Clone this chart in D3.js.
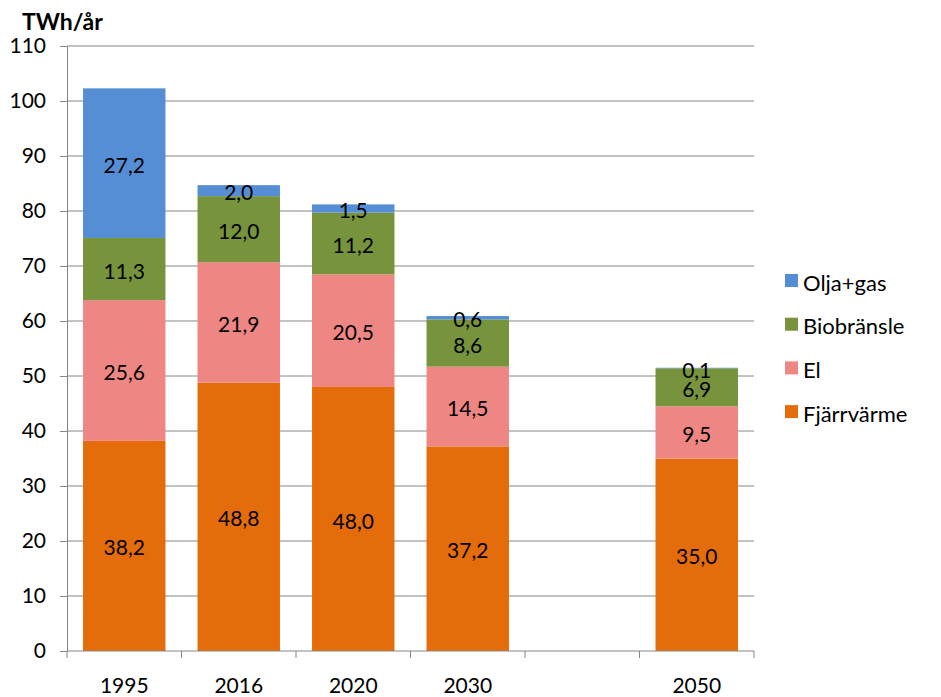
<!DOCTYPE html>
<html><head><meta charset="utf-8">
<script src="https://cdn.jsdelivr.net/npm/d3@7"></script>
<style>body{margin:0;background:#fff}svg{display:block}text{font-family:Lato,"Open Sans",sans-serif}</style>
</head><body>
<svg id="c" width="941" height="697"></svg>
<script>
const categories = ["1995","2016","2020","2030","","2050"];
const seriesNames = ["Fjärrvärme","El","Biobränsle","Olja+gas"];
const fjarrvarme = [38.2,48.8,48.0,37.2,null,35.0];
const el = [25.6,21.9,20.5,14.5,null,9.5];
const biobransle = [11.3,12.0,11.2,8.6,null,6.9];
const oljagas = [27.2,2.0,1.5,0.6,null,0.1];
const yTicks = [0,10,20,30,40,50,60,70,80,90,100,110];
const colors = ["#E46C0A","#EE8783","#77933C","#558ED5"];

const FS = 21;
const svg = d3.select("#c");
const m = {l:67, r:187, t:46, b:46};
const W = 941, H = 697;
const x = d3.scaleBand().domain(d3.range(categories.length)).range([m.l, W-m.r]).paddingInner(0.28).paddingOuter(0.14);
const y = d3.scaleLinear().domain([0,110]).range([H-m.b, m.t]);

// gridlines
svg.append("g").selectAll("line").data(yTicks.filter(d=>d>0)).join("line")
  .attr("x1",m.l).attr("x2",W-m.r).attr("y1",d=>y(d)).attr("y2",d=>y(d))
  .attr("stroke","#868686").attr("stroke-width",1);

const series = [fjarrvarme, el, biobransle, oljagas];
const rows = categories.map((c,i)=>({i, v: series.map(s=>s[i])}));
const stack = d3.stack().keys([0,1,2,3]).value((d,k)=>d.v[k]||0);
const stacked = stack(rows);

stacked.forEach((layer,k)=>{
  const g = svg.append("g");
  layer.forEach(seg=>{
    const d = seg.data; if (d.v[k]==null) return;
    g.append("rect").attr("x",x(d.i)).attr("width",x.bandwidth())
      .attr("y",y(seg[1])).attr("height",y(seg[0])-y(seg[1])).attr("fill",colors[k]);
  });
});
stacked.forEach((layer,k)=>{
  layer.forEach(seg=>{
    const d = seg.data; if (d.v[k]==null) return;
    svg.append("text").attr("x",x(d.i)+x.bandwidth()/2).attr("y",(y(seg[0])+y(seg[1]))/2+1)
      .attr("text-anchor","middle").attr("dominant-baseline","central")
      .attr("font-size",FS).attr("fill","#000")
      .text(d.v[k].toFixed(1).replace(".",","));
  });
});

// y axis
const ya = svg.append("g").attr("transform",`translate(${m.l},0)`)
  .call(d3.axisLeft(y).tickValues(yTicks).tickSize(7).tickPadding(14).tickFormat(d=>d));
ya.select(".domain").attr("stroke","#868686");
ya.selectAll(".tick line").attr("stroke","#868686");
ya.selectAll(".tick text").attr("font-size",FS).attr("fill","#000").style("font-family","Lato,'Open Sans',sans-serif");

// x axis
const xb = d3.scaleLinear().domain([0,categories.length]).range([m.l, W-m.r]);
const xa = svg.append("g");
xa.append("line").attr("x1",m.l).attr("x2",W-m.r).attr("y1",y(0)).attr("y2",y(0)).attr("stroke","#868686");
xa.selectAll("line.t").data(d3.range(categories.length+1)).join("line").attr("class","t")
  .attr("x1",d=>xb(d)).attr("x2",d=>xb(d)).attr("y1",y(0)).attr("y2",y(0)+7).attr("stroke","#868686");
xa.selectAll("text").data(categories).join("text")
  .attr("x",(d,i)=>x(i)+x.bandwidth()/2).attr("y",y(0)+42).attr("text-anchor","middle")
  .attr("font-size",FS).attr("fill","#000").text(d=>d);

// title
svg.append("text").attr("x",22).attr("y",30).attr("font-size",23).attr("font-weight","bold").text("TWh/år");

// legend
const legendOrder = [3,2,1,0];
const lg = svg.append("g");
legendOrder.forEach((k,j)=>{
  const ly = 281 + j*43.7;
  lg.append("rect").attr("x",785).attr("y",ly-7).attr("width",13).attr("height",13).attr("fill",colors[k]);
  lg.append("text").attr("x",803).attr("y",ly+1).attr("dominant-baseline","central").attr("font-size",22).text(seriesNames[k]);
});
</script>
</body></html>
